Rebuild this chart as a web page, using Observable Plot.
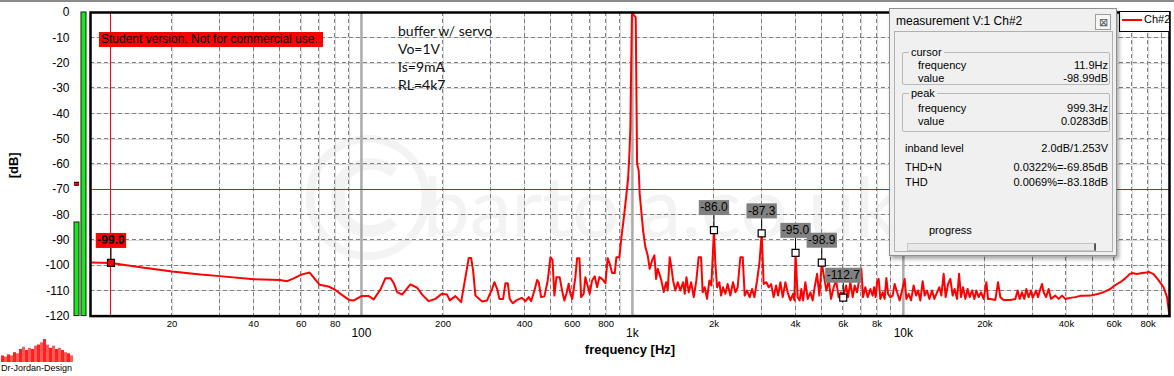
<!DOCTYPE html>
<html><head><meta charset="utf-8">
<script src="https://cdn.jsdelivr.net/npm/d3@7"></script>
<script src="https://cdn.jsdelivr.net/npm/@observablehq/plot@0.6"></script>
<style>
html,body{margin:0;padding:0;background:#fff;}
#wrap{position:relative;width:1174px;height:376px;overflow:hidden;font-family:"Liberation Sans",Arial,sans-serif;color:#000;}
#wrap > *{position:absolute;}
.abs{position:absolute;white-space:nowrap;}
#panel{left:889px;top:8px;width:226px;height:246px;background:#f0f0f0;border:1px solid #8f8f8f;box-shadow:2px 3px 4px rgba(0,0,0,0.35);font-size:11px;line-height:13px;}
.grp{position:absolute;border:1px solid #b8b8b8;border-radius:2px;}
.glab{position:absolute;background:#f0f0f0;padding:0 2px;}
.val{position:absolute;width:110px;text-align:right;}
</style></head><body><div id="wrap"></div>
<script>
// ---------- data ----------
const freqHz = [
  10, 11.9, 15.3, 20, 25.5, 30, 40, 50, 53.2, 56.2, 60, 64.4, 70, 75.7, 80, 83.7, 90, 93.7,
  100, 106.4, 111, 117.5, 122.6, 128, 131.5, 135.4, 141.3, 151.6, 160.6, 167.5, 177.2, 187.5, 198, 207, 211.8, 222.3, 233.3,
  242, 248.9, 254, 258.3, 263.4, 278.8, 290.9, 303.6, 309.6, 316.7, 323, 333.3, 340, 346.7, 352.6, 361.6, 375.4, 391.7,
  402.9, 414.3, 422.9, 435, 445, 451, 460.3, 473.5, 487, 498.3, 507, 515.4, 524.4, 539, 550, 561, 570.8, 582, 590.5,
  600, 616, 625, 637.6, 646.8, 661, 670.7, 680.4, 695.6, 710, 726, 741, 755.6, 773, 795, 810.7, 824.6, 841.6, 860.5,
  873, 895, 911, 929, 948, 964, 975, 983, 988.8, 996,
  999.3, 1012, 1028.5, 1034.6, 1040.6, 1055, 1064, 1076.7, 1095, 1117, 1139, 1158, 1182, 1205.6, 1223, 1240, 1258, 1279,
  1305, 1332, 1350, 1373, 1393, 1413, 1441, 1470, 1503, 1538, 1560, 1583, 1614, 1647, 1684, 1722, 1756, 1792, 1817, 1848,
  1886, 1924, 1956, 2000, 2024, 2053, 2094, 2125, 2161, 2204, 2247, 2299, 2352, 2399, 2446, 2503, 2553, 2597, 2650, 2709,
  2765, 2820, 2885, 2942, 3000, 3051, 3122, 3184, 3249, 3322, 3391, 3449, 3517, 3587, 3670, 3742, 3828, 3917, 3961, 4000,
  4074, 4144, 4204, 4265, 4349, 4436, 4538, 4628, 4707, 4804, 4898, 5000, 5111, 5199, 5302, 5410, 5531, 5645, 5771, 5890,
  6000, 6146, 6252, 6375, 6501, 6613, 6748, 6882, 6998, 7100, 7240, 7384, 7555, 7704, 7800, 7900, 8000, 8107, 8225, 8387,
  8531, 8656, 8781, 8954, 9131, 9288, 9478, 9690, 9890,
  10110, 10259, 10462, 10677, 10914, 11140, 11330, 11554, 11783, 11985, 12232, 12474, 12763, 13014, 13317, 13579, 13812,
  14085, 14327, 14622, 14910, 15205, 15466, 15786, 16054, 16330, 16610, 16940, 17274, 17568, 17930, 18285, 18600, 18967,
  19356, 19789, 20249, 20540, 20946, 21856, 22360, 22800, 23450, 24820, 25900, 26410, 26870, 27420, 27960, 28440, 29000,
  29600, 30000, 30880, 31410, 32030, 32500, 32940, 33620, 34370, 35080, 36390, 37430, 38520, 39610, 41320, 43120, 44990,
  46950, 48980, 51110, 53330, 55650, 58060, 60000, 63190, 65950, 68390, 69820, 72850, 76020, 79330, 80000, 83870, 87510,
  91320, 93980, 95580, 96000
];
const levelDb = [
  -98.8, -99.0, -100.7, -102.4, -103.6, -104.2, -105.4, -105.7, -106.2, -105.1, -103.6, -102.8, -107.6, -108.3, -109.6, -111.2, -113.6, -113.8,
  -112.1, -112.1, -113.4, -109.5, -105.0, -105.0, -106.9, -110.5, -111.5, -107.5, -108.8, -111.5, -114.1, -113.2, -111.2, -111.5, -113.8, -112.1, -114.5,
  -104.6, -97.0, -97.0, -102.0, -111.9, -114.2, -113.8, -109.2, -106.6, -109.2, -113.2, -113.2, -107.0, -107.0, -113.2, -114.9, -113.6, -112.8,
  -114.1, -112.5, -114.1, -109.9, -105.7, -106.6, -112.5, -112.2, -105.9, -96.7, -97.8, -111.9, -104.6, -104.6, -109.9, -113.8, -111.2, -107.2, -111.2,
  -113.2, -104.6, -97.1, -97.1, -112.5, -111.2, -104.6, -107.2, -111.2, -105.9, -104.3, -108.6, -104.6, -105.3, -107.0, -97.1, -99.3, -103.0, -103.0,
  -96.7, -96.7, -88.8, -81.5, -73.0, -65.7, -55.9, -45.3, -24.2, -1.5,
  0.0283, -1.0, -1.9, -30.8, -59.8, -62.5, -71.7, -77.6, -86.2, -92.8, -96.0, -101.3, -98.0, -96.0, -105.3, -101.3, -103.3, -105.9,
  -110.5, -106.6, -109.9, -96.7, -100.7, -105.9, -109.9, -106.6, -109.9, -106.6, -111.2, -104.6, -110.6, -106.6, -112.5, -105.9, -96.7, -96.7, -110.6, -108.6,
  -113.2, -105.9, -107.9, -86.0, -99.3, -108.6, -106.6, -111.9, -108.6, -111.2, -107.3, -111.9, -106.6, -110.6, -108.6, -96.7, -96.7, -111.9, -109.9, -112.5,
  -109.3, -112.5, -105.9, -99.3, -87.3, -107.3, -106.6, -108.6, -107.3, -112.5, -107.9, -111.9, -106.6, -112.5, -106.6, -110.6, -113.8, -111.2, -113.8, -95.0,
  -112.5, -113.8, -109.3, -113.8, -106.6, -113.2, -110.6, -113.8, -108.6, -103.3, -111.9, -98.9, -105.3, -109.9, -105.9, -113.2, -108.6, -105.9, -112.5, -110.6,
  -112.7, -107.9, -112.5, -106.6, -112.5, -107.9, -110.6, -105.3, -101.3, -112.5, -108.6, -112.5, -109.3, -111.9, -108.6, -112.5, -106.6, -105.3, -113.2, -110.6,
  -113.2, -104.9, -111.2, -112.5, -111.9, -107.3, -110.6, -113.8, -109.9,
  -105.3, -113.2, -111.2, -113.8, -107.9, -111.9, -109.9, -113.8, -106.2, -111.9, -109.9, -113.2, -109.9, -113.2, -110.6, -108.6, -111.9,
  -103.3, -112.5, -107.3, -105.3, -111.9, -109.3, -113.2, -103.3, -112.5, -108.6, -113.2, -109.3, -112.5, -109.9, -113.2, -109.9, -112.5,
  -110.6, -113.2, -106.6, -113.2, -113.2, -113.6, -106.6, -112.5, -113.6, -113.6, -113.2, -109.9, -113.2, -110.6, -113.2, -109.3, -112.5,
  -109.9, -112.8, -109.9, -112.5, -109.3, -107.3, -110.6, -112.5, -109.3, -113.2, -111.9, -113.2, -111.9, -113.2, -112.8, -112.5, -112.0,
  -112.0, -111.9, -111.5, -111.0, -110.2, -109.3, -108.0, -106.6, -105.1, -103.4, -103.0, -103.4, -103.0, -102.8, -102.4, -103.4, -105.9,
  -108.6, -112.5, -118.4, -120
];
const harmonicHz = [2000, 3000, 4000, 5000, 6000];
const harmonicDb = [-86.0, -87.3, -95.0, -98.9, -112.7];
const cursorHz = 11.9;
const cursorDb = -98.99;
const limitDb = -70;
const yTicks = [0, -10, -20, -30, -40, -50, -60, -70, -80, -90, -100, -110, -120];
const yGrid = [-10, -20, -30, -40, -50, -60, -70, -80, -90, -100, -110];
const minorTickHz = [20, 40, 60, 80, 200, 400, 600, 800, 2000, 4000, 6000, 8000, 20000, 40000, 60000, 80000];
const minorTickLabels = ["20", "40", "60", "80", "200", "400", "600", "800", "2k", "4k", "6k", "8k", "20k", "40k", "60k", "80k"];
const majorTickHz = [100, 1000, 10000];
const majorTickLabels = ["100", "1k", "10k"];
const gridHz = [20, 30, 40, 50, 60, 70, 80, 90, 200, 300, 400, 500, 600, 700, 800, 900,
  2000, 3000, 4000, 5000, 6000, 7000, 8000, 9000, 20000, 30000, 40000, 50000, 60000, 70000, 80000, 90000];
const freqDomain = [10, 96000];
const meterChannels = ["ch1", "ch2"];
const meterDb = [-83, 0];
const meterPeakDb = [-67.7];
const logoLevels = [6, 5, 7, 6, 9, 8, 12, 14, 11, 13, 12, 15, 16, 18, 21, 16, 13, 15, 12, 13, 11, 9, 8, 6];
const notes = ["buffer w/ servo", "Vo=1V", "Is=9mA", "RL=4k7"];

// ---------- build ----------
const FONT = '"Liberation Sans", Arial, sans-serif';
const trace = freqHz.map((f, i) => ({f, db: levelDb[i]}));
const harm = harmonicHz.map((f, i) => ({f, db: harmonicDb[i], label: harmonicDb[i].toFixed(1)}));
const cur = [{f: cursorHz, db: cursorDb, label: cursorDb.toFixed(1)}];
const minorTicks = minorTickHz.map((f, i) => ({f, label: minorTickLabels[i]}));
const majorTicks = majorTickHz.map((f, i) => ({f, label: majorTickLabels[i]}));

const FRAME = {width: 1174, height: 376, marginTop: 12, marginBottom: 60.4, marginLeft: 90, marginRight: 5};
const X = {type: "log", domain: freqDomain, axis: null};

const cv = document.createElement("canvas").getContext("2d");
function tw(s, font) { cv.font = font; return cv.measureText(s).width; }

const boxSym = {draw(c, size) { const hw = Math.sqrt(size / Math.PI); c.rect(-hw, -30, 2 * hw, 15); }};
const stemSym = {draw(c) { c.moveTo(0, -3.5); c.lineTo(0, -15); }};
const sqSym = {draw(c) { c.rect(-3.5, -3.5, 7, 7); }};

function fixDashes(svg) {
  svg.querySelectorAll('g[stroke-dasharray]').forEach(g => {
    const m = /translate\(([-\d.]+),\s*([-\d.]+)\)/.exec(g.getAttribute("transform") || "");
    const tx = m ? +m[1] : 0, ty = m ? +m[2] : 0;
    g.removeAttribute("transform");
    g.querySelectorAll("line").forEach(l => {
      ["x1", "x2"].forEach(a => l.setAttribute(a, Math.floor(+l.getAttribute(a)) + (tx ? 0.5 : 0)));
      ["y1", "y2"].forEach(a => l.setAttribute(a, Math.floor(+l.getAttribute(a)) + (ty ? 0.5 : 0)));
      l.setAttribute("stroke-dasharray", "4,3");
      l.setAttribute("stroke", "#808080");
      l.setAttribute("stroke-width", 1);
    });
  });
}

// layer 1: watermark + faint solid grid
const gridBase = Plot.plot({
  ...FRAME, x: X, y: {domain: [-120, 0], axis: null},
  style: {background: "transparent"},
  marks: [
    Plot.text(["©"], {text: d => d, frameAnchor: "middle", dx: -262, dy: 40, fontSize: 170, fill: "#f3f3f3", fontFamily: "Lato"}),
    Plot.text(["bartola.co.uk"], {text: d => d, frameAnchor: "middle", dx: 30, dy: 46, fontSize: 84, fill: "#f3f3f3", fontFamily: "Lato"}),
    Plot.ruleY(yGrid, {y: d => d, stroke: "#dadada", strokeWidth: 1, shapeRendering: "crispEdges"}),
    Plot.ruleX(gridHz, {x: d => d, stroke: "#dadada", strokeWidth: 1, shapeRendering: "crispEdges"})
  ]
});
// layer 2: dashed grid
const gridDash = Plot.plot({
  ...FRAME, x: X, y: {domain: [-120, 0], axis: null},
  style: {background: "transparent"},
  marks: [
    Plot.ruleY(yGrid, {y: d => d, stroke: "#808080", strokeWidth: 1, strokeDasharray: "4,3"}),
    Plot.ruleX(gridHz, {x: d => d, stroke: "#808080", strokeWidth: 1, strokeDasharray: "4,3"})
  ]
});
fixDashes(gridDash);

// layer 3: the chart itself
const main = Plot.plot({
  ...FRAME, x: X,
  y: {domain: [-120, 0]},
  r: {type: "identity"},
  style: {fontFamily: FONT, fontSize: "12px", color: "black", background: "transparent"},
  marks: [
    Plot.ruleX(majorTickHz, {x: d => d, stroke: "#ababab", strokeWidth: 2.5}),
    Plot.ruleY([limitDb], {y: d => d, stroke: "#ff0000", strokeWidth: 1, shapeRendering: "crispEdges"}),
    Plot.ruleX([cursorHz], {x: d => d, stroke: "#ff0000", strokeWidth: 1, shapeRendering: "crispEdges"}),
    Plot.line(trace, {x: "f", y: "db", stroke: "#ff0000", strokeWidth: 2}),
    Plot.dot(harm, {x: "f", y: "db", symbol: stemSym, r: 4, fill: "none", stroke: "black", strokeWidth: 1}),
    Plot.dot(cur, {x: "f", y: "db", symbol: stemSym, r: 4, fill: "none", stroke: "black", strokeWidth: 1}),
    Plot.dot(harm, {x: "f", y: "db", symbol: sqSym, r: 4, fill: "white", stroke: "black", strokeWidth: 1.2}),
    Plot.dot(cur, {x: "f", y: "db", symbol: sqSym, r: 4, fill: "#ff0000", stroke: "black", strokeWidth: 1.2}),
    Plot.dot(harm, {x: "f", y: "db", symbol: boxSym, r: d => tw(d.label, `12px ${FONT}`) / 2 + 1.5, fill: "#808080", stroke: "none"}),
    Plot.dot(cur, {x: "f", y: "db", symbol: boxSym, r: d => tw(d.label, `bold 12px ${FONT}`) / 2 + 1.5, fill: "#ff0000", stroke: "none"}),
    Plot.text(harm, {x: "f", y: "db", text: "label", dy: -22.5, fontSize: 12, fill: "black"}),
    Plot.text(cur, {x: "f", y: "db", text: "label", dy: -22.5, fontSize: 12, fontWeight: "bold", fill: "black"}),
    Plot.frame({stroke: "black", strokeWidth: 2.5}),
    Plot.axisY({ticks: yTicks, tickSize: 0, tickPadding: 21, fontSize: 12, tickFormat: d => String(d), label: null}),
    Plot.text(minorTicks, {x: "f", text: "label", frameAnchor: "bottom", dy: 11, fontSize: 9.5}),
    Plot.text(majorTicks, {x: "f", text: "label", frameAnchor: "bottom", dy: 21, fontSize: 12}),
    Plot.text(["frequency [Hz]"], {text: d => d, frameAnchor: "bottom", dy: 38, fontSize: 13, fontWeight: "bold"}),
    Plot.text(["[dB]"], {text: d => d, frameAnchor: "left", dx: -77, dy: 14, rotate: -90, fontSize: 13, fontWeight: "bold"})
  ]
});

const meter = Plot.plot({
  width: 90, height: 376, marginTop: 12, marginBottom: 60.4, marginLeft: 72, marginRight: 3,
  x: {type: "band", domain: meterChannels, paddingInner: 0.3, paddingOuter: 0.1, axis: null},
  y: {domain: [-120, 0], axis: null},
  style: {background: "transparent", overflow: "visible"},
  marks: [
    Plot.barY(meterChannels.map((c, i) => ({c, db: meterDb[i]})), {x: "c", y1: -120, y2: "db", fill: "#1ee61e", stroke: "#1a1a1a", strokeWidth: 1}),
    Plot.tickY(meterPeakDb.map((db, i) => ({c: meterChannels[i], db})), {x: "c", y: "db", stroke: "#000", strokeWidth: 4}),
    Plot.tickY(meterPeakDb.map((db, i) => ({c: meterChannels[i], db})), {x: "c", y: "db", stroke: "#ff0000", strokeWidth: 2})
  ]
});

const logo = Plot.plot({
  width: 74, height: 24, margin: 0,
  x: {type: "band", domain: logoLevels.map((d, i) => i), padding: 0.1, axis: null},
  y: {domain: [0, 22], axis: null},
  style: {background: "transparent"},
  marks: [Plot.barY(logoLevels.map((v, i) => ({i, v})), {x: "i", y: "v", fill: (d) => d.i % 2 ? "#ff5a5a" : "#ff2020"})]
});

const wrap = document.getElementById("wrap");
[gridBase, gridDash, main, meter].forEach(s => { s.style.left = "0px"; s.style.top = "0px"; wrap.appendChild(s); });
logo.style.left = "0px"; logo.style.top = "338px";
wrap.appendChild(logo);

function addDiv(html, css) { const d = document.createElement("div"); d.className = "abs"; d.style.cssText = css; d.innerHTML = html; wrap.appendChild(d); return d; }

addDiv("", "left:0;top:0;width:1174px;height:2px;background:#8a8a8a;");
addDiv("Dr-Jordan-Design", "left:1px;top:363px;font-size:9px;line-height:11px;");
addDiv("Student version. Not for commercial use.", "left:99px;top:32px;width:222px;height:15px;background:#ff0000;font-size:12px;line-height:15px;padding-left:2px;");
notes.forEach((t, i) => addDiv(t, `left:398px;top:${22 + i * 18}px;font-family:Lato,sans-serif;font-size:14px;line-height:18px;color:#111;`));

addDiv('<div style="position:absolute;left:2px;top:7px;width:20px;height:2px;background:#ff0000"></div><div style="position:absolute;left:24px;top:1px;font-size:11px;line-height:13px">Ch#2</div>',
  "left:1119px;top:11px;width:49px;height:19px;background:#fff;border:1px solid #000;");

const panel = document.createElement("div");
panel.id = "panel";
panel.innerHTML = `
<div class="abs" style="left:6px;top:5px;font-size:12px;line-height:14px">measurement V:1 Ch#2</div>
<div class="abs" style="left:205px;top:5px;width:14px;height:14px;border:1px solid #9c9c9c;background:#f6f6f6;font-size:11px;line-height:14px;text-align:center;color:#555">&#x22A0;</div>
<div class="abs" style="left:4px;top:22px;width:217px;height:219px;border:1px solid #b0b0b0;"></div>
<div class="grp" style="left:12px;top:43px;width:206px;height:31px;"></div>
<div class="glab" style="left:19px;top:37px;">cursor</div>
<div class="abs" style="left:28px;top:50px">frequency</div><div class="val" style="left:108px;top:50px">11.9Hz</div>
<div class="abs" style="left:28px;top:63px">value</div><div class="val" style="left:108px;top:63px">-98.99dB</div>
<div class="grp" style="left:12px;top:84px;width:206px;height:37px;"></div>
<div class="glab" style="left:19px;top:78px;">peak</div>
<div class="abs" style="left:28px;top:93px">frequency</div><div class="val" style="left:108px;top:93px">999.3Hz</div>
<div class="abs" style="left:28px;top:106px">value</div><div class="val" style="left:108px;top:106px">0.0283dB</div>
<div class="abs" style="left:15px;top:133px">inband level</div><div class="val" style="left:108px;top:133px">2.0dB/1.253V</div>
<div class="abs" style="left:15px;top:152px">THD+N</div><div class="val" style="left:108px;top:152px">0.0322%=-69.85dB</div>
<div class="abs" style="left:15px;top:167px">THD</div><div class="val" style="left:108px;top:167px">0.0069%=-83.18dB</div>
<div class="abs" style="left:39px;top:215px">progress</div>
<div class="abs" style="left:17px;top:234px;width:186px;height:6px;border:1px solid #c4c4c4;background:#e9e9e9;border-right:2px solid #555;"></div>
`;
wrap.appendChild(panel);
</script></body></html>
